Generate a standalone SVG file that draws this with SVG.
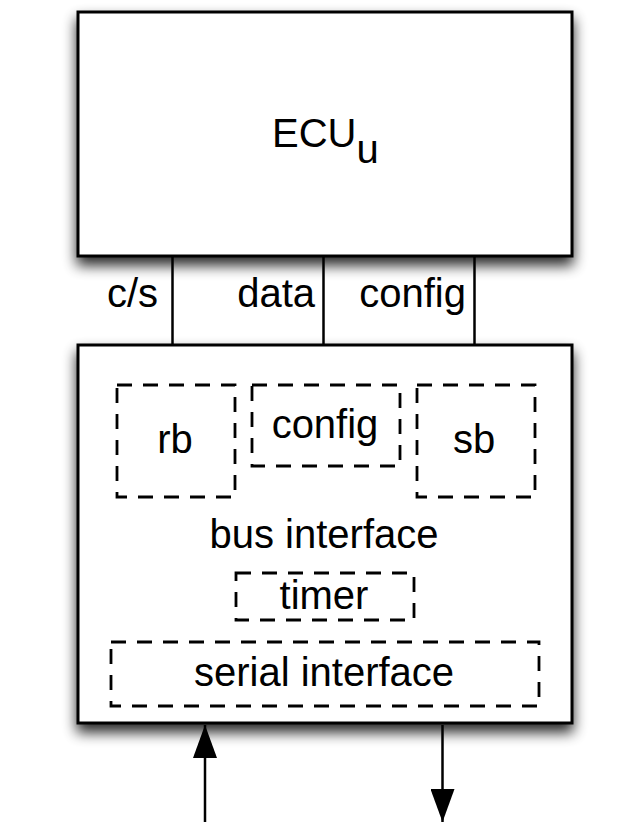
<svg xmlns="http://www.w3.org/2000/svg" width="618" height="822" viewBox="0 0 618 822">
<style>
text{font-family:"Liberation Sans",Arial,sans-serif;font-size:40px;fill:#000}
.box{fill:#fff;stroke:#000;stroke-width:3}
.dash{fill:none;stroke:#000;stroke-width:2.8;stroke-dasharray:15 11}
.wire{stroke:#000;stroke-width:2.5;fill:none}
</style>
<defs>
<filter id="sh" x="-20%" y="-20%" width="140%" height="140%">
<feGaussianBlur in="SourceAlpha" stdDeviation="7"/>
<feOffset dx="0" dy="8" result="b"/>
<feComponentTransfer><feFuncA type="linear" slope="0.85"/></feComponentTransfer>
<feMerge><feMergeNode/><feMergeNode in="SourceGraphic"/></feMerge>
</filter>
<marker id="ah" markerWidth="33" markerHeight="24" refX="33" refY="12" orient="auto" markerUnits="userSpaceOnUse" viewBox="0 0 33 24">
<path d="M0,0 L33,12 L0,24 Z" fill="#000"/>
</marker>
</defs>
<rect width="618" height="822" fill="#fff"/>
<g id="ecu">
<rect class="box" x="78" y="12" width="494" height="244" filter="url(#sh)"/>
<text x="272" y="147">ECU<tspan dy="16">u</tspan></text>
</g>
<g id="bus">
<rect class="box" x="78" y="345" width="494" height="378" filter="url(#sh)"/>
<text x="324" y="548" text-anchor="middle">bus interface</text>
</g>
<g id="rb">
<rect class="dash" x="117" y="385" width="118" height="112"/>
<text x="175" y="453" text-anchor="middle">rb</text>
</g>
<g id="config-reg">
<rect class="dash" x="252" y="385" width="148" height="81"/>
<text x="325" y="438" text-anchor="middle">config</text>
</g>
<g id="sb">
<rect class="dash" x="417" y="385" width="118" height="112"/>
<text x="474" y="453" text-anchor="middle">sb</text>
</g>
<g id="timer">
<rect class="dash" x="236" y="573" width="178" height="47"/>
<text x="324" y="609" text-anchor="middle">timer</text>
</g>
<g id="serial">
<rect class="dash" x="111" y="642" width="428" height="64"/>
<text x="324" y="686" text-anchor="middle">serial interface</text>
</g>
<g id="connectors">
<line class="wire" x1="172.5" y1="256" x2="172.5" y2="345"/>
<line class="wire" x1="323.5" y1="256" x2="323.5" y2="345"/>
<line class="wire" x1="474.5" y1="256" x2="474.5" y2="345"/>
<text x="158" y="307" text-anchor="end">c/s</text>
<text x="315" y="307" text-anchor="end">data</text>
<text x="466" y="307" text-anchor="end">config</text>
<line class="wire" x1="205" y1="822" x2="205" y2="725" marker-end="url(#ah)"/>
<line class="wire" x1="442.5" y1="725" x2="442.5" y2="822" marker-end="url(#ah)"/>
</g>
</svg>
